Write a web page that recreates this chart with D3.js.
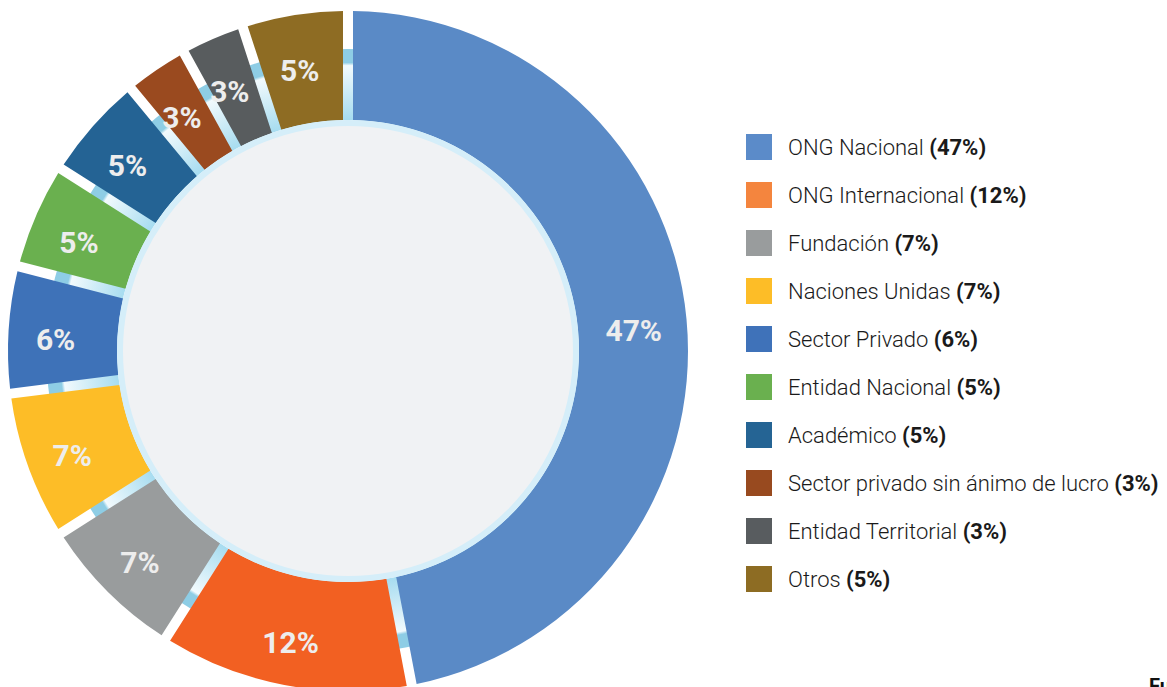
<!DOCTYPE html>
<html>
<head>
<meta charset="utf-8">
<script src="https://cdn.jsdelivr.net/npm/d3@7"></script>
<style>
  body { margin: 0; background: #fff; }
  svg { display: block; font-family: Roboto, "Noto Sans", sans-serif; }
</style>
</head>
<body>
<div class="chart"></div>
<script>
var categories = ["ONG Nacional", "ONG Internacional", "Fundación", "Naciones Unidas", "Sector Privado",
  "Entidad Nacional", "Académico", "Sector privado sin ánimo de lucro", "Entidad Territorial", "Otros"];
var values = [47, 12, 7, 7, 6, 5, 5, 3, 3, 5];
var sliceColors = ["#5a8ac6", "#f26022", "#999c9d", "#fdbd27", "#3e72b8",
  "#6ab04f", "#246394", "#9a4a1f", "#585c5e", "#8e6c23"];
var legendColors = ["#5b8bc9", "#f4853e", "#999c9d", "#fdbd27", "#3f72b9",
  "#6ab04f", "#256494", "#984a1f", "#585c5f", "#8d6c23"];

var width = 1167, height = 687;
var cx = 348, cy = 351;
var rOuter = 340, rInner = 231, rBand = 302;

var svg = d3.select("div.chart").append("svg")
  .attr("width", width)
  .attr("height", height);

var defs = svg.append("defs");
var grad = defs.append("radialGradient")
  .attr("id", "gapGrad")
  .attr("gradientUnits", "userSpaceOnUse")
  .attr("cx", 0).attr("cy", 0).attr("r", rBand);
grad.append("stop").attr("offset", rInner / rBand).attr("stop-color", "#a6dcf0");
grad.append("stop").attr("offset", 0.945).attr("stop-color", "#f2fafd");
grad.append("stop").attr("offset", 0.955).attr("stop-color", "#8ecde5");
grad.append("stop").attr("offset", 1).attr("stop-color", "#8ecde5");

var g = svg.append("g").attr("transform", "translate(" + cx + "," + cy + ")");

// ring seen through the gaps
g.append("path")
  .attr("d", d3.arc().innerRadius(rInner).outerRadius(rBand).startAngle(0).endAngle(2 * Math.PI)())
  .attr("fill", "url(#gapGrad)");

var pie = d3.pie().sort(null).value(function(d){ return d; });
var arcs = pie(values);

var arc = d3.arc()
  .innerRadius(rInner)
  .outerRadius(rOuter)
  .padRadius(300)
  .padAngle(10 / 300);

g.selectAll("path.slice")
  .data(arcs)
  .enter().append("path")
  .classed("slice", true)
  .attr("d", arc)
  .attr("fill", function(d, i){ return sliceColors[i]; });

// centre disc
g.append("circle")
  .attr("r", rInner - 3)
  .attr("fill", "#f0f2f4")
  .attr("stroke", "#d5eef9")
  .attr("stroke-width", 6);

var labelArc = d3.arc().innerRadius(290).outerRadius(290);
g.selectAll("text.pct")
  .data(arcs)
  .enter().append("text")
  .classed("pct", true)
  .attr("transform", function(d){
    var c = labelArc.centroid(d);
    return "translate(" + (c[0] - 3) + "," + (c[1] + 6) + ")";
  })
  .attr("text-anchor", "middle")
  .attr("dy", "0.36em")
  .style("font-size", "30px")
  .style("font-weight", "bold")
  .style("fill", "#ededed")
  .text(function(d){ return d.data + "%"; });

// legend
var legend = svg.append("g").attr("transform", "translate(746,134)");
var rows = legend.selectAll("g.row")
  .data(categories)
  .enter().append("g")
  .classed("row", true)
  .attr("transform", function(d, i){ return "translate(0," + (i * 48) + ")"; });

rows.append("rect")
  .attr("width", 26).attr("height", 26)
  .attr("fill", function(d, i){ return legendColors[i]; });

var txt = rows.append("text")
  .attr("x", 42).attr("y", 13)
  .attr("dy", "0.36em")
  .style("font-size", "22px")
  .style("fill", "#1a1a1a");
txt.append("tspan").style("font-weight", 300).text(function(d){ return d + " "; });
txt.append("tspan").style("font-weight", "bold").text(function(d, i){ return "(" + values[i] + "%)"; });

svg.append("text")
  .attr("x", 1149).attr("y", 693)
  .style("font-size", "20px")
  .style("font-weight", "bold")
  .style("fill", "#111")
  .text("Fuente");
</script>
</body>
</html>
